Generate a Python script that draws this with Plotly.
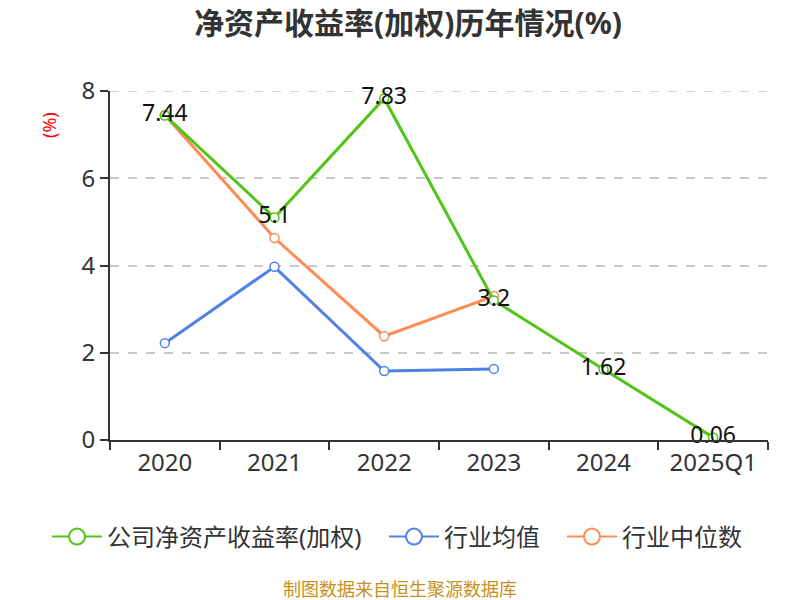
import plotly.graph_objects as go

categories = ["2020", "2021", "2022", "2023", "2024", "2025Q1"]
company_roe = [7.44, 5.1, 7.83, 3.2, 1.62, 0.06]
industry_avg = [2.22, 3.97, 1.58, 1.63, None, None]
industry_median = [7.45, 4.63, 2.38, 3.30, None, None]

FONT = "Noto Sans, Noto Sans CJK SC, sans-serif"
GREEN = "#52c41a"
BLUE = "#4f81e6"
ORANGE = "#ff8c57"

series = [
    ("公司净资产收益率(加权)", company_roe, GREEN),
    ("行业均值", industry_avg, BLUE),
    ("行业中位数", industry_median, ORANGE),
]
legend_ids = ["legend", "legend2", "legend3"]
legend_left_px = [39, 376, 554]  # left edge of each legend box, figure px

fig = go.Figure()

# legend-only entries with bigger circles, like the original
for (name, _, color), lid in zip(series, legend_ids):
    fig.add_trace(go.Scatter(
        x=[None], y=[None], name=name, legend=lid, mode="lines+markers",
        line=dict(color=color, width=2),
        marker=dict(symbol="circle", size=22, color="white", line=dict(color=color, width=2)),
        hoverinfo="skip",
    ))

# company series drawn last so its labels stay on top
for name, values, color in series[::-1]:
    labelled = values is company_roe
    fig.add_trace(go.Scatter(
        x=categories, y=values, name=name, showlegend=False,
        mode="lines+markers+text" if labelled else "lines+markers",
        text=[str(v) for v in values] if labelled else None,
        textposition="middle center", cliponaxis=False,
        textfont=dict(size=23, color="#111111"),
        line=dict(color=color, width=3),
        marker=dict(symbol="circle", size=9, color="white", line=dict(color=color, width=1.5)),
    ))

fig.update_layout(
    width=800, height=600,
    paper_bgcolor="white", plot_bgcolor="white",
    font=dict(family=FONT, size=24, color="#333333"),
    margin=dict(l=102, r=40, t=83, b=168, autoexpand=False),
    title=dict(text="<b>净资产收益率(加权)历年情况(%)</b>", x=0.5, xanchor="center",
               y=0.975, yanchor="middle", font=dict(size=30, color="#333333")),
    xaxis=dict(
        type="category", range=[-0.5, 5.5], tickson="boundaries", tickangle=0,
        showline=True, linecolor="#333333", linewidth=2,
        ticks="outside", ticklen=8, tickcolor="#333333", tickwidth=2,
        showgrid=False, tickfont=dict(size=24, color="#333333"),
    ),
    yaxis=dict(
        range=[0, 8], tickvals=[0, 2, 4, 6, 8],
        showline=True, linecolor="#333333", linewidth=2,
        ticks="outside", ticklen=8, tickcolor="#333333", tickwidth=2,
        showgrid=True, gridcolor="#c8c8c8", griddash="dash", gridwidth=1.5,
        zeroline=False, tickfont=dict(size=24, color="#333333"),
    ),
    showlegend=True,
)

# one small legend per series so the gaps between entries match
for lid, left in zip(legend_ids, legend_left_px):
    fig.update_layout({lid: dict(
        orientation="h", x=(left - 102) / 658, xanchor="left", y=-0.278, yanchor="middle",
        font=dict(size=24, color="#333333"), itemwidth=50, bgcolor="rgba(0,0,0,0)",
    )})

# dashed grid line at the top of the range (plotly drops it at the edge)
fig.add_shape(type="line", xref="paper", yref="y", x0=0, x1=1, y0=8, y1=8,
              line=dict(color="#c8c8c8", width=1.5, dash="dash"), layer="below")

fig.add_annotation(
    text="(%)", xref="paper", yref="paper", x=(49 - 110) / 658, y=(440 - 125) / 349,
    xanchor="center", yanchor="middle",
    showarrow=False, textangle=-90, font=dict(size=18, color="red"),
)
fig.add_annotation(
    text="制图数据来自恒生聚源数据库", xref="paper", yref="paper", x=0.441,
    y=-0.427, xanchor="center", yanchor="middle",
    showarrow=False, font=dict(size=18, color="#c8901e"),
)

fig.write_html("out.html")
